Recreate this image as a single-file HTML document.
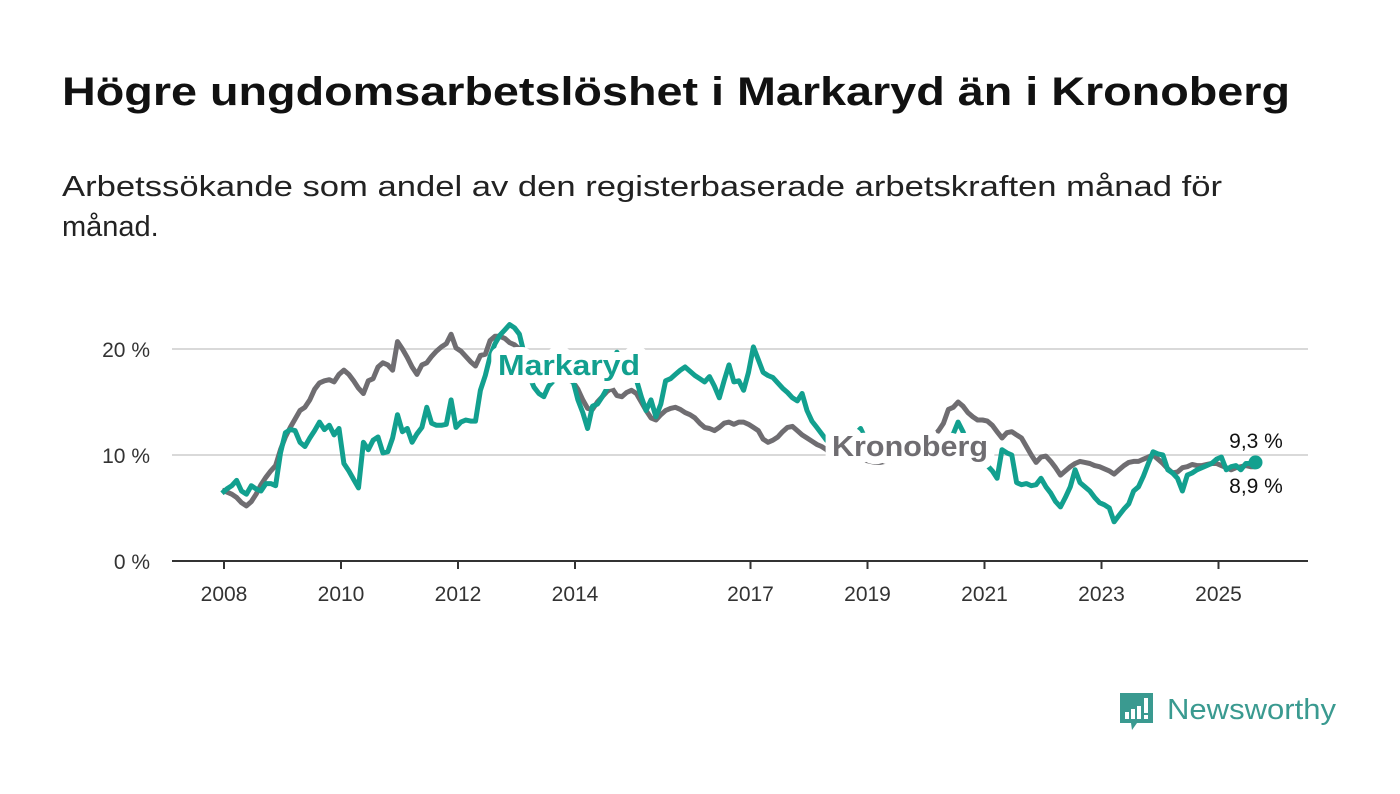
<!DOCTYPE html>
<html><head><meta charset="utf-8">
<style>
html,body{margin:0;padding:0;background:#fff;width:1400px;height:794px;overflow:hidden}
svg{display:block}
text{font-family:"Liberation Sans",sans-serif}
</style></head>
<body>
<svg id="chart" width="1400" height="794" viewBox="0 0 1400 794">
  <text x="62" y="105" font-size="40" font-weight="bold" fill="#111" textLength="1228" lengthAdjust="spacingAndGlyphs">Högre ungdomsarbetslöshet i Markaryd än i Kronoberg</text>
  <text x="62" y="196" font-size="29" fill="#222" textLength="1160" lengthAdjust="spacingAndGlyphs">Arbetssökande som andel av den registerbaserade arbetskraften månad för</text>
  <text x="62" y="236" font-size="29" fill="#222">månad.</text>
  <g id="grid"></g>
  <g id="xaxis"></g>
  <g id="series"></g>
  <g id="labels"></g>
  <g>
    <path d="M1120,693 h33 v30 h-16 l-5,7 l-1,-7 h-11 z" fill="#3a9a90"/>
    <rect x="1125" y="712" width="4" height="7" fill="#fff"/>
    <rect x="1131" y="709" width="4" height="10" fill="#fff"/>
    <rect x="1137" y="706" width="4" height="13" fill="#fff"/>
    <rect x="1144" y="698" width="4" height="15" fill="#fff"/>
    <rect x="1144" y="715" width="4" height="4" fill="#fff"/>
    <text x="1167" y="719" font-size="29" fill="#3a9a90" textLength="169" lengthAdjust="spacingAndGlyphs">Newsworthy</text>
  </g>
</svg>
<script>
const yTicks = [0, 10, 20];
const yTickLabels = ["0 %", "10 %", "20 %"];
const xTickYears = [2008, 2010, 2012, 2014, 2017, 2019, 2021, 2023, 2025];
const startYear = 2008;
const kronoberg = [
6.7,6.5,6.3,6.0,5.5,5.2,5.6,6.3,7.2,7.9,8.5,9.0,
10.5,11.7,12.6,13.4,14.2,14.5,15.2,16.2,16.8,17.0,17.1,16.9,
17.6,18.0,17.6,17.0,16.3,15.8,17.0,17.2,18.3,18.7,18.5,18.0,
20.7,20.0,19.2,18.3,17.6,18.5,18.7,19.3,19.8,20.2,20.5,21.4,
20.1,19.8,19.3,18.8,18.4,19.4,19.5,20.8,21.2,21.2,21.0,20.6,
20.4,20.0,19.6,19.2,18.8,18.4,18.0,17.8,17.6,17.5,17.3,17.1,
16.9,16.2,15.2,14.4,14.3,15.0,15.5,16.0,16.3,15.6,15.5,15.9,
16.1,15.8,15.0,14.2,13.5,13.3,13.8,14.2,14.4,14.5,14.3,14.0,
13.8,13.5,13.0,12.6,12.5,12.3,12.6,13.0,13.1,12.9,13.1,13.1,
12.9,12.6,12.3,11.5,11.2,11.4,11.7,12.2,12.6,12.7,12.3,11.9,
11.6,11.3,11.0,10.8,10.5,10.0,9.9,9.8,9.7,9.6,9.6,9.5,
9.5,9.4,9.3,9.3,9.4,9.4,9.5,9.6,9.8,10.0,10.2,10.4,
10.8,11.2,11.8,12.3,13.0,14.3,14.5,15.0,14.6,14.0,13.6,13.3,
13.3,13.2,12.8,12.2,11.6,12.1,12.2,11.9,11.6,10.8,10.0,9.3,
9.8,9.9,9.4,8.8,8.1,8.5,8.9,9.2,9.4,9.3,9.2,9.0,
8.9,8.7,8.5,8.2,8.6,9.0,9.3,9.4,9.4,9.6,9.8,10.0,
9.6,9.2,8.7,8.3,8.4,8.8,8.9,9.1,9.0,9.0,9.1,9.2,
9.2,9.0,8.8,8.6,8.8,8.9,9.0,8.9,8.9];
const markaryd = [
6.4,6.8,7.1,7.6,6.6,6.3,7.1,6.8,6.6,7.3,7.3,7.1,
10.2,12.1,12.4,12.3,11.2,10.8,11.6,12.3,13.1,12.4,12.8,11.9,
12.5,9.2,8.5,7.7,6.9,11.2,10.5,11.4,11.7,10.2,10.3,11.6,
13.8,12.2,12.5,11.2,12.0,12.6,14.5,13.0,12.8,12.8,12.9,15.2,
12.6,13.1,13.3,13.2,13.2,16.1,17.5,19.3,20.5,21.3,21.8,22.3,
22.0,21.4,19.5,17.5,16.4,15.8,15.5,16.5,17.0,17.2,17.4,17.3,
17.0,15.2,14.0,12.5,14.6,14.8,15.5,16.3,18.0,19.7,18.5,17.5,
17.5,17.1,15.5,14.2,15.2,13.6,14.8,17.0,17.2,17.6,18.0,18.3,
17.9,17.5,17.2,16.9,17.4,16.5,15.4,17.0,18.5,16.9,17.0,16.1,
17.8,20.2,19.0,17.8,17.5,17.3,16.8,16.3,15.9,15.4,15.1,15.8,
14.2,13.2,12.6,12.0,11.4,11.0,10.8,10.6,10.9,11.5,12.0,12.5,
11.5,11.0,10.8,10.5,10.2,10.0,9.8,9.9,10.1,10.3,10.5,10.8,
11.0,11.2,11.5,11.3,11.0,11.5,12.0,13.1,12.2,11.0,10.2,9.7,
9.3,9.0,8.5,7.8,10.5,10.2,10.0,7.4,7.2,7.3,7.1,7.2,
7.8,7.0,6.4,5.6,5.1,6.0,7.0,8.6,7.4,7.0,6.6,6.0,
5.5,5.3,5.0,3.7,4.3,4.9,5.4,6.6,7.0,8.0,9.2,10.3,
10.1,10.0,8.6,8.3,7.8,6.6,8.1,8.3,8.6,8.8,9.0,9.2,
9.6,9.8,8.6,8.9,9.0,8.6,9.2,9.2,9.3];

const NS = "http://www.w3.org/2000/svg";
const X0 = 222, PXYEAR = 58.5, Y0 = 561, PXPCT = 10.6;
function xMonth(i){ return X0 + i * PXYEAR / 12; }
function xYear(y){ return X0 + (y - startYear) * PXYEAR + 2; }
function yVal(v){ return Y0 - v * PXPCT; }
function mk(tag, attrs, parent){ const e = document.createElementNS(NS, tag); for (const k in attrs) e.setAttribute(k, attrs[k]); parent.appendChild(e); return e; }

const grid = document.getElementById('grid');
yTicks.forEach((t, i) => {
  if (t !== 0) {
    const l = mk('line', {x1:172, x2:1308, y1:yVal(t), y2:yVal(t), stroke:'#d9d9d9', 'stroke-width':2}, grid);
    
    
  }
  const tx = mk('text', {x:150, y:yVal(t)+8, 'text-anchor':'end', 'font-size':21, fill:'#333'}, grid);
  tx.textContent = yTickLabels[i];
  
  
});
const xa = document.getElementById('xaxis');
const axisLine = mk('line', {x1:172, x2:1308, y1:Y0, y2:Y0, stroke:'#333', 'stroke-width':2}, xa);


xTickYears.forEach(y => {
  const tk = mk('line', {x1:xYear(y), x2:xYear(y), y1:Y0, y2:Y0+8, stroke:'#333', 'stroke-width':2}, xa);
  
  
  const tl = mk('text', {x:xYear(y), y:601, 'text-anchor':'middle', 'font-size':21, fill:'#333'}, xa);
  tl.textContent = String(y);
  
  
});

const sg = document.getElementById('series');
function pathFor(arr){ return arr.map((v,i)=>(i?'L':'M')+xMonth(i).toFixed(1)+','+yVal(v).toFixed(1)).join(''); }
const pk = mk('path', {d:pathFor(kronoberg), fill:'none', stroke:'#6f6d71', 'stroke-width':5, 'stroke-linejoin':'round'}, sg);


const pm = mk('path', {d:pathFor(markaryd), fill:'none', stroke:'#12a08f', 'stroke-width':5, 'stroke-linejoin':'round'}, sg);


const lastI = markaryd.length - 1;
const dot = mk('circle', {cx:xMonth(lastI), cy:yVal(markaryd[lastI]), r:7, fill:'#12a08f'}, sg);



const lg = document.getElementById('labels');
function label(txt, x, y, color, name, size, bold, len){
  const t = mk('text', {x:x, y:y, 'font-size':size, 'font-weight':bold?'bold':'normal', fill:color, stroke:'#fff', 'stroke-width':bold?16:6, 'stroke-linejoin':'round', 'paint-order':'stroke', 'text-anchor':'middle'}, lg);
  if (len) { t.setAttribute('textLength', len); t.setAttribute('lengthAdjust', 'spacingAndGlyphs'); }
  t.textContent = txt;
  
  
}
label('Markaryd', 569, 375, '#12a08f', 'markaryd-label', 29, true, 142);
label('Kronoberg', 910, 456, '#6f6d71', 'kronoberg-label', 29, true, 156);
label(String(markaryd[lastI]).replace('.', ',') + ' %', 1256, 448, '#111', 'markaryd-end-value', 21, false);
label(String(kronoberg[lastI]).replace('.', ',') + ' %', 1256, 493, '#111', 'kronoberg-end-value', 21, false);
</script>
</body></html>
